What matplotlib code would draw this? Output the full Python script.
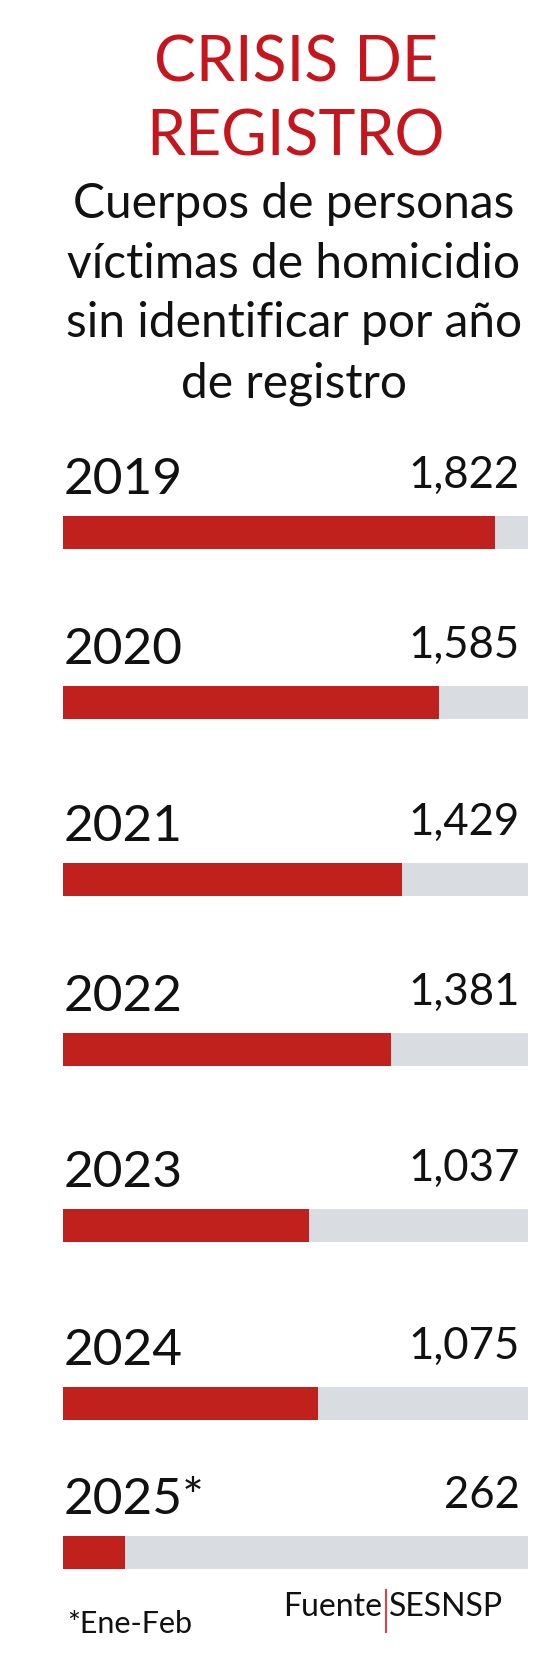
import matplotlib
matplotlib.use('Agg')
import matplotlib.pyplot as plt
from matplotlib.lines import Line2D

# ---- data ----
years = ['2019', '2020', '2021', '2022', '2023', '2024', '2025*']
values = [1822, 1585, 1429, 1381, 1037, 1075, 262]
value_labels = ['1,822', '1,585', '1,429', '1,381', '1,037', '1,075', '262']
track_max = 1960

title_lines = ['CRISIS DE', 'REGISTRO']
subtitle_lines = ['Cuerpos de personas', 'víctimas de homicidio',
                  'sin identificar por año', 'de registro']
note_text = '*Ene-Feb'
source_left = 'Fuente'
source_right = 'SESNSP'

# ---- style / layout ----
plt.rcParams['font.family'] = ['Lato', 'DejaVu Sans']
RED = '#c0211c'
GRAY = '#d9dde1'
TITLE_RED = '#c4161c'
TEXT = '#111111'

W, H = 560, 1670
fig = plt.figure(figsize=(W / 100, H / 100), dpi=100)
fig.patch.set_facecolor('white')


def fx(x):
    return x / W


def fy(y):
    return 1 - y / H


title_baselines = [82, 155]
for line, b in zip(title_lines, title_baselines):
    fig.text(fx(296), fy(b), line, color=TITLE_RED, fontsize=45,
             ha='center', va='baseline')

sub_baselines = [218, 278, 337, 397]
for line, b in zip(subtitle_lines, sub_baselines):
    fig.text(fx(294), fy(b), line, color=TEXT, fontsize=34.5,
             ha='center', va='baseline')

bar_tops = [516, 686, 863, 1033, 1209, 1387, 1536]
bar_h = 33
x0, x1 = 63, 528
pt = 0.72  # px -> points at 100 dpi

for year, v, lab, top in zip(years, values, value_labels, bar_tops):
    ax = fig.add_axes([fx(x0), fy(top + bar_h), (x1 - x0) / W, bar_h / H])
    ax.barh(0, track_max, height=1, color=GRAY, linewidth=0)
    ax.barh(0, v, height=1, color=RED, linewidth=0)
    ax.set_xlim(0, track_max)
    ax.set_ylim(-0.5, 0.5)
    ax.axis('off')
    ax.annotate(year, xy=(0, 1), xycoords='axes fraction',
                xytext=(1 * pt, 22 * pt), textcoords='offset points',
                ha='left', va='baseline', fontsize=37, color=TEXT,
                annotation_clip=False)
    ax.annotate(lab, xy=(1, 1), xycoords='axes fraction',
                xytext=(-8 * pt, 28 * pt), textcoords='offset points',
                ha='right', va='baseline', fontsize=31.5, color=TEXT,
                annotation_clip=False)

# footer
fig.text(fx(67), fy(1633), note_text, color=TEXT, fontsize=22,
         ha='left', va='baseline')
fig.text(fx(382), fy(1616), source_left, color=TEXT, fontsize=23,
         ha='right', va='baseline')
fig.text(fx(389), fy(1616), source_right, color=TEXT, fontsize=23,
         ha='left', va='baseline')
fig.add_artist(Line2D([fx(385.5), fx(385.5)], [fy(1590), fy(1632)],
                      color='#d9444a', linewidth=1.5,
                      transform=fig.transFigure))

fig.savefig('out.png', dpi=100, facecolor='white')
